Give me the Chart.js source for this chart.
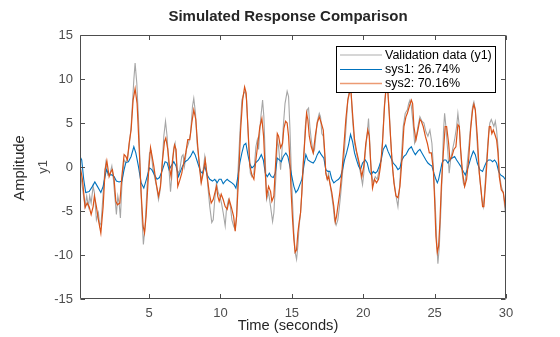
<!DOCTYPE html>
<html>
<head>
<meta charset="utf-8">
<script src="https://cdn.jsdelivr.net/npm/chart.js@4.4.1/dist/chart.umd.min.js"></script>
<style>
html,body{margin:0;padding:0;background:#fff;}
#wrap{width:560px;height:337px;position:relative;}
</style>
</head>
<body>
<div id="wrap"><canvas id="c" width="560" height="337"></canvas></div>
<script>
// ---- data ----
const xTickValues = [5, 10, 15, 20, 25, 30];
const yTickValues = [-15, -10, -5, 0, 5, 10, 15];
const seriesNames = ['Validation data (y1)', 'sys1: 26.74%', 'sys2: 70.16%'];

const valT = [0.16,0.51,0.63,0.75,0.84,0.94,1.08,1.17,1.31,1.45,1.54,1.64,1.85,1.97,2.11,2.27,2.39,2.50,2.62,2.71,2.81,2.90,2.99,3.09,3.25,3.37,3.48,3.60,3.74,3.93,4.02,4.14,4.28,4.40,4.51,4.60,4.72,4.86,5.03,5.14,5.26,5.38,5.52,5.66,5.75,5.89,6.03,6.15,6.26,6.38,6.50,6.59,6.71,6.82,6.96,7.08,7.15,7.29,7.38,7.48,7.62,7.76,7.90,8.04,8.13,8.25,8.36,8.51,8.65,8.79,8.90,9.02,9.14,9.25,9.39,9.49,9.60,9.72,9.84,9.95,10.07,10.19,10.33,10.42,10.56,10.70,10.80,10.92,11.03,11.13,11.22,11.36,11.50,11.64,11.73,11.83,11.97,12.09,12.20,12.34,12.48,12.58,12.67,12.81,12.95,13.04,13.14,13.23,13.37,13.51,13.65,13.74,13.88,13.98,14.07,14.21,14.30,14.40,14.52,14.67,14.77,14.86,14.95,15.05,15.14,15.23,15.33,15.42,15.51,15.61,15.70,15.80,15.94,16.08,16.17,16.26,16.36,16.50,16.59,16.68,16.78,16.92,17.01,17.10,17.20,17.29,17.38,17.48,17.57,17.66,17.76,17.90,17.99,18.10,18.22,18.31,18.41,18.55,18.69,18.83,18.92,19.06,19.15,19.25,19.39,19.53,19.67,19.81,19.95,20.04,20.14,20.28,20.37,20.46,20.56,20.70,20.84,20.98,21.12,21.26,21.35,21.49,21.58,21.70,21.82,21.92,22.06,22.20,22.34,22.43,22.52,22.66,22.80,22.94,23.09,23.18,23.27,23.37,23.51,23.60,23.69,23.83,23.97,24.11,24.25,24.39,24.53,24.67,24.81,24.91,25.00,25.09,25.16,25.23,25.33,25.42,25.52,25.62,25.70,25.79,25.93,26.02,26.12,26.26,26.40,26.54,26.63,26.73,26.82,26.91,27.01,27.10,27.24,27.38,27.52,27.66,27.75,27.85,27.94,28.08,28.22,28.31,28.41,28.50,28.64,28.78,28.87,28.97,29.06,29.15,29.25,29.34,29.44,29.53,29.67,29.81,29.95,30.00];
const valY = [-0.3,-4.5,-3.3,-4.5,-3.3,-4.1,-2.2,-2.9,-6.0,-5.2,-6.7,-6.3,-1.4,0.5,-0.9,-0.7,0.1,-1.4,-3.7,-5.4,-3.3,-4.1,-5.8,-2.2,0.8,0.5,1.0,2.3,4.6,9.9,11.8,9.5,4.6,-1.4,-6.0,-8.8,-6.7,-2.2,1.6,1.8,-0.1,-1.1,-2.2,-3.7,-2.9,-0.3,3.5,5.2,3.5,0.1,-2.8,-1.1,2.0,2.7,-0.3,-0.7,-0.3,1.2,1.4,0.1,2.0,2.7,3.8,6.9,7.8,6.1,2.7,0.5,-1.6,-0.3,1.2,-0.3,-2.6,-4.5,-6.3,-6.0,-3.7,-1.8,-2.9,-3.3,-4.1,-5.2,-6.7,-4.8,-3.7,-4.5,-6.0,-6.7,-7.1,-5.6,-0.7,3.8,7.6,8.4,8.6,7.6,2.7,-0.7,-1.1,-0.7,2.3,3.1,2.0,5.4,7.6,5.7,0.8,-3.7,-2.9,-4.5,-6.2,-5.2,-1.1,3.1,2.3,-0.3,1.6,4.6,7.2,8.6,8.0,4.6,0.1,-4.1,-7.5,-9.7,-10.5,-9.0,-6.7,-5.2,-2.9,0.1,4.6,6.5,6.7,4.6,3.1,1.6,2.0,3.5,5.2,6.1,5.7,3.8,3.5,1.6,-0.7,-1.4,-0.7,-1.8,-2.9,-4.5,-6.0,-6.6,-6.0,-4.8,-3.3,-0.7,2.0,5.4,7.6,9.1,8.4,5.4,2.7,1.6,0.5,-0.7,-2.0,-0.7,1.6,3.8,5.5,2.7,-0.7,-1.8,-1.1,-1.4,-0.3,0.8,3.1,7.2,8.8,9.2,6.5,3.1,-0.3,-2.2,-3.7,-4.5,-2.9,0.8,4.6,6.1,6.5,7.2,7.6,6.9,4.6,2.7,3.1,4.6,5.7,5.2,5.0,4.0,3.5,4.2,2.7,0.1,-2.9,-6.0,-9.0,-11.0,-9.0,-5.6,-1.1,4.0,6.1,4.6,1.6,-0.7,0.8,2.0,3.1,4.6,6.1,4.6,2.0,-0.3,-1.8,-2.2,-0.3,2.0,4.6,6.9,7.4,6.5,3.8,0.1,-2.2,-3.7,-4.5,-2.9,0.8,3.8,5.0,5.4,5.0,4.6,5.2,4.2,2.3,-0.7,-2.2,-2.9,-5.2,-5.5];

const sys1T = [0.16,0.28,0.42,0.56,0.80,1.03,1.20,1.38,1.62,1.78,2.01,2.20,2.39,2.55,2.71,2.90,3.09,3.25,3.37,3.55,3.74,3.93,4.07,4.25,4.44,4.63,4.81,5.03,5.19,5.38,5.56,5.73,5.94,6.12,6.26,6.40,6.54,6.73,6.89,7.06,7.15,7.34,7.52,7.71,7.90,8.08,8.22,8.41,8.60,8.74,8.90,9.07,9.25,9.44,9.60,9.77,9.91,10.05,10.19,10.33,10.47,10.61,10.80,10.94,11.08,11.22,11.36,11.50,11.64,11.78,11.92,12.06,12.20,12.34,12.48,12.67,12.86,13.00,13.14,13.28,13.42,13.56,13.70,13.84,13.98,14.12,14.26,14.40,14.58,14.72,14.86,15.00,15.14,15.28,15.42,15.56,15.70,15.84,15.98,16.12,16.31,16.50,16.64,16.78,16.92,17.06,17.24,17.38,17.52,17.66,17.80,17.94,18.08,18.27,18.41,18.55,18.69,18.83,18.97,19.11,19.25,19.39,19.53,19.67,19.81,19.95,20.14,20.28,20.42,20.56,20.70,20.84,20.98,21.12,21.26,21.40,21.58,21.73,21.90,22.10,22.29,22.43,22.57,22.71,22.85,22.99,23.18,23.37,23.51,23.65,23.83,23.97,24.11,24.25,24.39,24.53,24.67,24.81,24.95,25.09,25.19,25.28,25.37,25.52,25.65,25.79,25.93,26.07,26.21,26.40,26.54,26.68,26.82,27.01,27.15,27.29,27.43,27.57,27.71,27.85,27.99,28.17,28.36,28.50,28.64,28.78,28.92,29.06,29.20,29.34,29.48,29.62,29.81,29.95,30.00];
const sys1Y = [1.2,0.8,-1.4,-2.9,-2.8,-2.2,-1.7,-2.2,-2.9,-2.2,-0.3,-0.9,-0.9,-1.1,-1.6,-1.7,-1.6,-0.3,0.5,0.6,1.2,2.3,1.6,0.1,-1.8,-2.4,-1.4,-0.1,-0.3,-0.9,-1.4,-1.2,-0.3,0.6,0.5,-0.3,0.1,0.6,0.1,-1.1,-0.7,0.1,0.6,0.8,1.2,1.8,1.4,0.45,-0.5,-0.7,0.1,-0.9,-1.4,-1.6,-1.4,-1.8,-1.4,-1.4,-1.9,-1.6,-1.4,-1.6,-1.8,-2.0,-2.4,-1.1,0.5,1.6,2.5,2.7,1.4,0.3,-0.1,0.1,0.5,0.8,1.4,0.8,-0.7,-1.1,-0.7,-1.1,-1.2,-0.7,1.0,0.8,0.6,1.2,1.6,1.2,0.1,-1.1,-2.2,-2.9,-2.6,-2.0,-1.4,0.1,1.4,0.8,0.6,0.45,0.8,1.4,1.8,1.4,1.0,-0.3,-0.5,-0.5,-1.4,-1.8,-1.6,-1.4,-1.1,-0.3,0.8,1.6,2.5,3.7,2.9,1.6,0.8,0.1,-0.3,0.45,0.8,0.45,-0.5,-0.9,-0.5,-0.7,-0.5,0.1,0.8,2.0,2.5,1.8,1.2,0.45,0.1,-0.3,-0.1,0.8,1.2,1.4,2.0,2.3,1.8,1.4,1.8,2.0,1.6,1.2,0.8,0.45,0.26,0.1,-0.7,-1.4,-1.8,-1.4,-0.7,0.45,0.8,0.8,0.45,0.8,1.0,1.2,0.8,0.45,0.1,-0.5,-0.9,-0.3,0.45,1.2,1.8,1.4,0.45,-0.3,-0.5,0.1,0.6,0.8,0.8,0.6,0.8,0.45,-0.5,-0.9,-1.1,-1.4,-1.5];

const sys2T = [0.16,0.33,0.52,0.66,0.80,0.94,1.08,1.17,1.31,1.45,1.62,1.78,1.92,2.04,2.20,2.34,2.43,2.55,2.67,2.78,2.95,3.09,3.25,3.37,3.48,3.60,3.74,3.88,4.02,4.16,4.30,4.44,4.58,4.68,4.79,4.96,5.10,5.21,5.33,5.49,5.66,5.80,5.94,6.08,6.17,6.31,6.45,6.54,6.64,6.78,6.89,7.01,7.15,7.29,7.43,7.57,7.71,7.85,7.99,8.13,8.27,8.41,8.55,8.65,8.79,8.93,9.07,9.21,9.35,9.49,9.63,9.72,9.81,9.91,10.05,10.19,10.33,10.47,10.61,10.75,10.92,11.03,11.13,11.27,11.41,11.55,11.69,11.80,11.92,12.06,12.20,12.34,12.48,12.62,12.76,12.90,13.02,13.14,13.23,13.37,13.51,13.60,13.74,13.84,13.98,14.07,14.21,14.35,14.44,14.56,14.67,14.77,14.86,14.95,15.05,15.14,15.23,15.33,15.42,15.51,15.61,15.70,15.80,15.94,16.03,16.12,16.22,16.36,16.50,16.64,16.78,16.92,17.06,17.20,17.29,17.38,17.48,17.57,17.66,17.80,17.94,18.04,18.13,18.22,18.36,18.50,18.64,18.78,18.92,19.06,19.15,19.25,19.39,19.53,19.67,19.81,19.90,20.04,20.18,20.32,20.42,20.51,20.65,20.79,20.93,21.07,21.21,21.35,21.49,21.63,21.73,21.87,22.01,22.15,22.29,22.43,22.57,22.71,22.85,22.99,23.09,23.23,23.37,23.46,23.55,23.69,23.83,23.97,24.07,24.20,24.35,24.49,24.63,24.77,24.91,25.00,25.09,25.19,25.28,25.37,25.47,25.61,25.74,25.84,25.98,26.07,26.21,26.35,26.49,26.63,26.73,26.82,26.96,27.10,27.24,27.38,27.52,27.66,27.75,27.85,27.99,28.13,28.27,28.36,28.45,28.59,28.73,28.83,28.92,29.01,29.11,29.20,29.34,29.44,29.53,29.67,29.81,29.95,30.00];
const sys2Y = [0.15,-1.4,-4.6,-4.1,-4.5,-5.4,-4.5,-3.3,-4.5,-6.0,-7.5,-4.5,-0.3,0.7,-1.1,-0.5,-0.3,-1.4,-3.9,-4.3,-4.1,-1.1,1.4,1.2,0.8,2.7,4.2,7.6,8.9,7.2,2.3,-2.9,-6.7,-7.5,-5.6,-0.7,2.2,1.2,0.1,-1.8,-3.3,-2.2,0.8,2.9,3.3,2.0,-0.3,-1.1,0.8,2.5,2.0,-2.2,-1.5,-0.7,0.5,1.6,3.1,3.1,5.0,6.5,5.4,2.3,-0.3,-1.8,-0.7,0.8,-1.1,-2.9,-4.1,-3.7,-2.8,-2.2,-3.3,-3.9,-3.1,-3.7,-4.5,-4.8,-3.7,-4.5,-5.6,-7.3,-5.6,-1.1,4.2,7.6,9.1,8.4,4.6,0.1,-0.9,-1.4,0.8,2.7,4.6,5.5,3.5,-0.7,-3.3,-2.2,-2.8,-3.9,-3.3,-0.3,3.8,3.5,2.2,2.7,4.4,5.2,5.0,3.5,0.8,-2.9,-6.0,-8.2,-9.7,-9.4,-7.5,-6.3,-5.2,-2.9,0.5,3.8,6.1,5.4,3.5,2.3,1.6,3.5,5.0,5.7,5.0,4.2,2.0,-0.7,-1.4,-1.1,-1.8,-2.9,-4.5,-6.2,-5.6,-4.5,-2.9,-0.7,2.3,5.4,7.6,8.6,8.4,6.1,3.1,1.8,0.8,-0.3,-1.1,0.1,2.7,4.2,3.5,0.8,-2.4,-1.4,-1.8,-1.4,0.1,2.7,6.9,9.5,8.4,4.6,0.8,-1.8,-3.3,-3.5,-2.2,0.8,4.6,5.7,6.1,6.9,7.6,7.2,4.6,3.1,4.2,5.4,5.2,4.6,3.5,2.7,1.6,1.6,-0.3,-3.7,-7.9,-9.7,-9.0,-6.3,-2.2,1.6,4.6,4.6,2.7,0.8,1.2,2.0,2.3,4.8,4.6,2.0,-0.7,-2.2,-1.4,0.8,4.2,6.5,7.1,6.5,3.5,-0.7,-2.9,-4.5,-4.5,-1.4,2.3,4.6,4.6,3.8,4.2,3.8,3.1,1.6,-1.1,-2.6,-2.9,-4.5,-5.0];

// ---- styles ----
const FONT = '"Liberation Sans", Arial, Helvetica, sans-serif';
const INK = '#262626';
const TICKINK = '#4d4d4d';
const AXISINK = '#4d4d4d';
const colors = ['#a6a6a6', '#0072BD', '#D95319'];

function pts(t, y) { return t.map((v, i) => ({ x: v, y: y[i] })); }

const framePlugin = {
  id: 'frame',
  afterDraw(chart) {
    const ctx = chart.ctx;
    const a = chart.chartArea;
    const xs = chart.scales.x, ys = chart.scales.y;
    ctx.save();
    // box
    ctx.strokeStyle = AXISINK;
    ctx.lineWidth = 1;
    const L = Math.round(a.left) + 0.5, R = Math.round(a.right) - 0.5;
    const T = Math.round(a.top) + 0.5, B = Math.round(a.bottom) - 0.5;
    ctx.beginPath();
    ctx.rect(L, T, R - L, B - T);
    ctx.stroke();
    // inside ticks
    const tl = 4.5;
    ctx.beginPath();
    xTickValues.forEach(v => {
      const px = Math.round(xs.getPixelForValue(v)) + 0.5;
      ctx.moveTo(px, B); ctx.lineTo(px, B - tl);
      ctx.moveTo(px, T); ctx.lineTo(px, T + tl);
    });
    yTickValues.forEach(v => {
      const py = Math.round(ys.getPixelForValue(v)) + 0.5;
      ctx.moveTo(L, py); ctx.lineTo(L + tl, py);
      ctx.moveTo(R, py); ctx.lineTo(R - tl, py);
    });
    ctx.stroke();

    // title
    ctx.fillStyle = INK;
    ctx.textAlign = 'center';
    ctx.textBaseline = 'alphabetic';
    ctx.font = 'bold 15px ' + FONT;
    ctx.fillText('Simulated Response Comparison', 288, 20.5);
    // x label
    ctx.font = '14.7px ' + FONT;
    ctx.textBaseline = 'middle';
    ctx.fillText('Time (seconds)', 288, 326);
    // y labels
    ctx.save();
    ctx.translate(20, 168);
    ctx.rotate(-Math.PI / 2);
    ctx.font = '14.7px ' + FONT;
    ctx.fillText('Amplitude', 0, 0);
    ctx.restore();
    ctx.save();
    ctx.translate(43, 167);
    ctx.rotate(-Math.PI / 2);
    ctx.font = '13px ' + FONT;
    ctx.fillStyle = TICKINK;
    ctx.fillText('y1', 0, 0);
    ctx.restore();

    // legend
    const lx = 336.5, ly = 46.5, lw = 159, lh = 46;
    ctx.fillStyle = '#ffffff';
    ctx.fillRect(lx, ly, lw, lh);
    ctx.strokeStyle = '#000000';
    ctx.lineWidth = 1;
    ctx.strokeRect(lx, ly, lw, lh);
    ctx.font = '12.5px ' + FONT;
    ctx.textAlign = 'left';
    ctx.textBaseline = 'middle';
    const rows = [55, 69.5, 83.5];
    const legendColors = ['#c8c8c8', '#0072BD', '#ec9a73'];
    seriesNames.forEach((name, i) => {
      ctx.strokeStyle = legendColors[i];
      ctx.lineWidth = i === 1 ? 1.2 : 1.6;
      ctx.beginPath();
      ctx.moveTo(340, rows[i]);
      ctx.lineTo(382, rows[i]);
      ctx.stroke();
      ctx.fillStyle = '#000000';
      ctx.fillText(name, 385, rows[i] + 0.5);
    });
    ctx.restore();
  }
};

new Chart(document.getElementById('c'), {
  type: 'line',
  data: {
    datasets: [
      { label: seriesNames[0], data: pts(valT, valY), borderColor: colors[0], borderWidth: 1.1, pointRadius: 0, tension: 0, order: 3 },
      { label: seriesNames[1], data: pts(sys1T, sys1Y), borderColor: colors[1], borderWidth: 1.1, pointRadius: 0, tension: 0, order: 2 },
      { label: seriesNames[2], data: pts(sys2T, sys2Y), borderColor: colors[2], borderWidth: 1.2, pointRadius: 0, tension: 0, order: 1 }
    ]
  },
  options: {
    responsive: false,
    animation: false,
    devicePixelRatio: 1,
    layout: { padding: { left: 0, right: 54, top: 35, bottom: 0 } },
    plugins: { legend: { display: false }, title: { display: false }, tooltip: { enabled: false } },
    scales: {
      x: {
        type: 'linear', min: 0.16, max: 30,
        afterBuildTicks: s => { s.ticks = xTickValues.map(v => ({ value: v })); },
        afterFit: s => { s.height = 38; },
        grid: { display: false, drawTicks: false },
        border: { display: false },
        ticks: { color: TICKINK, font: { family: FONT, size: 13 }, padding: 7, maxRotation: 0, autoSkip: false }
      },
      y: {
        type: 'linear', min: -15, max: 15,
        afterBuildTicks: s => { s.ticks = yTickValues.map(v => ({ value: v })); },
        afterFit: s => { s.width = 80; },
        grid: { display: false, drawTicks: false },
        border: { display: false },
        ticks: { color: TICKINK, font: { family: FONT, size: 13 }, padding: 7, autoSkip: false }
      }
    }
  },
  plugins: [framePlugin]
});
</script>
</body>
</html>
